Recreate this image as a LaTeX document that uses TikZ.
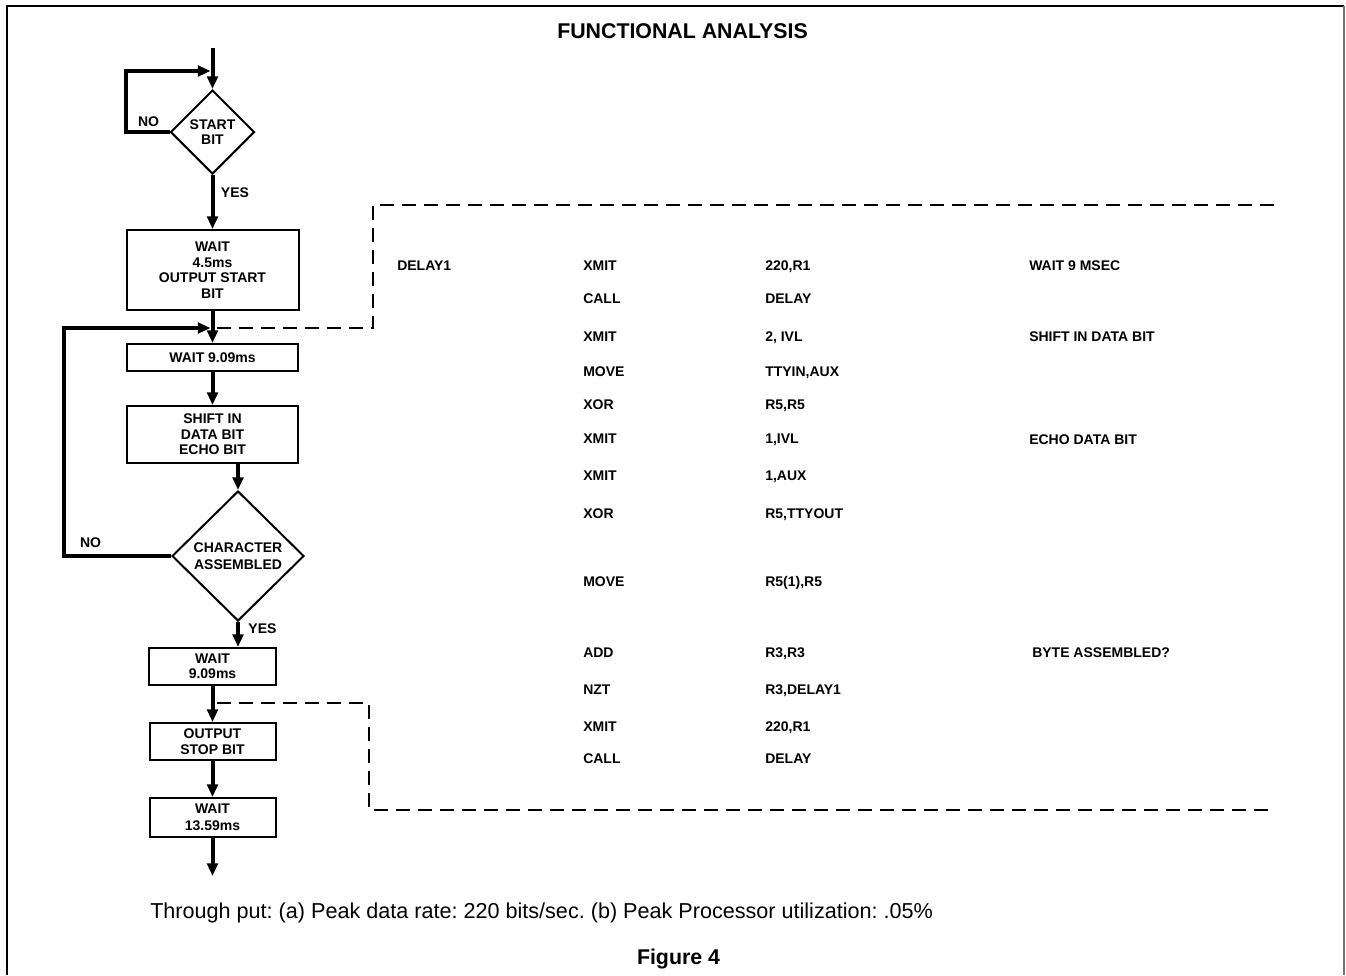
\documentclass[tikz,border=0pt]{standalone}
\usepackage{fontspec}
\usepackage{graphicx}
\setmainfont{Liberation Sans}
\usetikzlibrary{arrows.meta,shapes.geometric}
\frenchspacing
\begin{document}
\begin{tikzpicture}[x=0.75pt,y=-0.75pt,
  every node/.style={font=\fontsize{10.5}{11.6}\selectfont\bfseries, inner sep=0pt},
  procbox/.style={draw, line width=1.5pt, align=center},
  decision/.style={diamond, draw, line width=1.5pt, align=center},
  flow/.style={line width=3pt, -{Triangle[length=9.5pt,width=8pt]}},
  dashline/.style={line width=1.5pt, dash pattern=on 10.5pt off 6pt},
  frameline/.style={line width=1.5pt},
  code/.style={anchor=base west},
  lbl/.style={anchor=base}]
\useasboundingbox (0,0) rectangle (1346,975);

% page frame
\draw[frameline] (7,975) -- (7,6) -- (1344,6);
\draw[line width=1pt, black!55] (1344,6) -- (1344,975);

% heading
\node[font=\fontsize{16}{19}\selectfont\bfseries, anchor=base] (title) at (682.5,38) {FUNCTIONAL ANALYSIS};

% flowchart blocks
\node[decision, minimum width=63pt, minimum height=63pt] (d1) at (212.5,132) {START\\BIT};
\node[procbox, minimum width=129pt, minimum height=60pt] (b1) at (212.5,270) {WAIT\\4.5ms\\OUTPUT START\\BIT};
\node[procbox, minimum width=128.25pt, minimum height=20.25pt] (b2) at (212.5,357.5) {WAIT 9.09ms};
\node[procbox, minimum width=128.25pt, minimum height=42.75pt] (b3) at (212.5,434.5) {SHIFT IN\\DATA BIT\\ECHO BIT};
\node[decision, minimum width=99pt, minimum height=97.5pt, font=\fontsize{10.5}{12.8}\selectfont\bfseries] (d2) at (238,556) {CHARACTER\\ASSEMBLED};
\node[procbox, minimum width=95.25pt, minimum height=27.75pt] (b4) at (212.5,666.5) {WAIT\\9.09ms};
\node[procbox, minimum width=94.5pt, minimum height=27.75pt, font=\fontsize{10.5}{12}\selectfont\bfseries] (b5) at (212.5,741.5) {OUTPUT\\STOP BIT};
\node[procbox, minimum width=94.5pt, minimum height=29.25pt, font=\fontsize{10.5}{12.6}\selectfont\bfseries] (b6) at (212.5,817.5) {WAIT\\13.59ms};

% junctions and free ends
\coordinate (entry) at (212.5,48);
\coordinate (j1) at (212.5,71);
\coordinate (j2) at (212.5,328);
\coordinate (j3) at (212.5,703);
\coordinate (exit) at (212.5,876);
\coordinate (dtopend) at (1275,205);
\coordinate (dbotend) at (1275,810);

% flow connectors
\draw[flow] (entry) -- (d1.north);
\draw[flow, shorten >=1.5pt] (d1.west) -- ++(-44,0) |- (j1);
\draw[flow] (d1.south) -- (b1.north);
\draw[flow] (b1.south) -- (b2.north);
\draw[flow, shorten >=1.5pt] (d2.west) -- ++(-107,0) |- (j2);
\draw[flow] (b2.south) -- (b3.north);
\draw[flow] (b3.south -| d2.north) -- (d2.north);
\draw[flow] (d2.south) -- (d2.south |- b4.north);
\draw[flow] (b4.south) -- (b5.north);
\draw[flow] (b5.south) -- (b6.north);
\draw[flow] (b6.south) -- (exit);

% branch labels
\node[lbl] (no1) at (148.5,126) {NO};
\node[lbl] (yes1) at (235,197) {YES};
\node[lbl] (no2) at (90.5,547) {NO};
\node[lbl] (yes2) at (262.5,633) {YES};

% dashed brackets round the code listing
\draw[dashline] (j2) ++(4,0) -- ++(156,0) |- (dtopend);
\draw[dashline] (j3) ++(4,0) -- ++(152,0) |- (dbotend);

% code listing
\node[code] (lab1) at (397,270) {DELAY1};
\node[code] (op1) at (583,270) {XMIT};   \node[code] (ar1) at (765,270) {220,R1};
\node[code] (op2) at (583,303) {CALL};   \node[code] (ar2) at (765,303) {DELAY};
\node[code] (op3) at (583,341) {XMIT};   \node[code] (ar3) at (765,341) {2, IVL};
\node[code] (op4) at (583,376) {MOVE};   \node[code] (ar4) at (765,376) {TTYIN,AUX};
\node[code] (op5) at (583,409) {XOR};    \node[code] (ar5) at (765,409) {R5,R5};
\node[code] (op6) at (583,443) {XMIT};   \node[code] (ar6) at (765,443) {1,IVL};
\node[code] (op7) at (583,480) {XMIT};   \node[code] (ar7) at (765,480) {1,AUX};
\node[code] (op8) at (583,518) {XOR};    \node[code] (ar8) at (765,518) {R5,TTYOUT};
\node[code] (op9) at (583,586) {MOVE};   \node[code] (ar9) at (765,586) {R5(1),R5};
\node[code] (op10) at (583,657) {ADD};   \node[code] (ar10) at (765,657) {R3,R3};
\node[code] (op11) at (583,694) {NZT};   \node[code] (ar11) at (765,694) {R3,DELAY1};
\node[code] (op12) at (583,731) {XMIT};  \node[code] (ar12) at (765,731) {220,R1};
\node[code] (op13) at (583,763) {CALL};  \node[code] (ar13) at (765,763) {DELAY};

% comments
\node[code] (cm1) at (1029,270) {WAIT 9 MSEC};
\node[code] (cm2) at (1029,341) {SHIFT IN DATA BIT};
\node[code] (cm3) at (1029,444) {ECHO DATA BIT};
\node[code] (cm4) at (1032,657) {BYTE ASSEMBLED?};

% footnote and caption
\node[anchor=base west, font=\fontsize{17}{20}\selectfont\mdseries] (thru) at (150,918)
  {\resizebox{587pt}{!}{Through put: (a) Peak data rate: 220 bits/sec. (b) Peak Processor utilization: .05\%}};
\node[anchor=base, font=\fontsize{16}{19}\selectfont\bfseries] (fig) at (678.5,964)
  {\resizebox{62.25pt}{!}{Figure 4}};
\end{tikzpicture}
\end{document}
